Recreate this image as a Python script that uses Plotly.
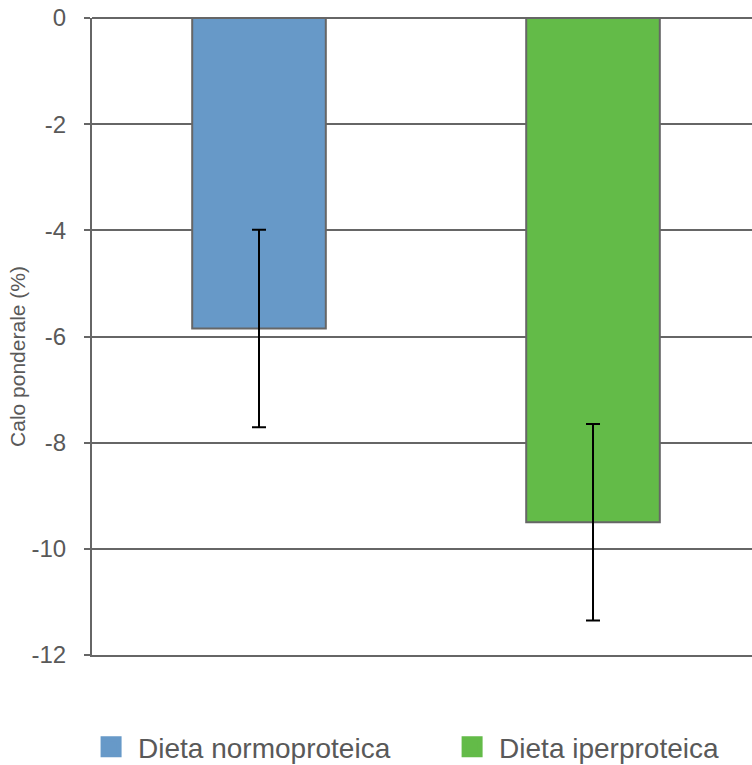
import plotly.graph_objects as go

categories = ["Dieta normoproteica", "Dieta iperproteica"]
values = [-5.85, -9.5]
errors = [1.86, 1.85]
colors = ["#6799C8", "#63BB48"]
tick_vals = [0, -2, -4, -6, -8, -10, -12]
tick_text = ["0", "-2", "-4", "-6", "-8", "-10", "-12"]
y_title = "Calo ponderale (%)"

fig = go.Figure()
for cat, val, err, col in zip(categories, values, errors, colors):
    fig.add_trace(go.Bar(
        x=[cat], y=[val], name=cat, width=0.4, showlegend=False,
        marker=dict(color=col, line=dict(color="#666666", width=2)),
        error_y=dict(type="data", array=[err], color="black", thickness=2, width=7),
    ))
# legend entries (square swatches), one legend per entry
legend_ids = ["legend", "legend2"]
for cat, col, lid in zip(categories, colors, legend_ids):
    fig.add_trace(go.Scatter(
        x=[None], y=[None], mode="markers", name=cat, legend=lid,
        marker=dict(symbol="square", size=16, color=col, line=dict(color=col, width=5)),
    ))

legend_common = dict(orientation="h", xanchor="left", y=-0.1445, yanchor="middle",
                      font=dict(size=28, color="#595959"), itemsizing="trace",
                      itemwidth=44, bgcolor="rgba(0,0,0,0)")

fig.update_layout(
    width=752, height=765,
    margin=dict(l=92, r=0, t=18, b=110, autoexpand=False),
    paper_bgcolor="white", plot_bgcolor="white",
    barmode="overlay",
    font=dict(family="Liberation Sans, Arial, sans-serif", color="#595959"),
    showlegend=True,
    legend=dict(x=-0.012, **legend_common),
    legend2=dict(x=0.535, **legend_common),
    xaxis=dict(range=[-0.5, 1.476], showticklabels=False, showgrid=False,
               showline=True, linecolor="#666666", linewidth=2, zeroline=False, ticks=""),
    yaxis=dict(range=[-12, 0], tickvals=tick_vals, ticktext=tick_text,
               showgrid=True, gridcolor="#666666", gridwidth=2,
               zeroline=True, zerolinecolor="#666666", zerolinewidth=2,
               showline=True, linecolor="#666666", linewidth=2,
               ticks="outside", ticklen=6, tickwidth=2, tickcolor="#666666",
               tickfont=dict(size=24, color="#595959"), ticklabelstandoff=13),
    annotations=[dict(text=y_title, xref="paper", yref="paper", x=-0.112, y=0.468,
                      textangle=-90, showarrow=False, xanchor="center", yanchor="middle",
                      font=dict(size=21, color="#595959"))],
)

fig.write_html("out.html", config={"displayModeBar": False},
               post_script="document.body.style.margin='0';document.body.style.overflow='hidden';")
